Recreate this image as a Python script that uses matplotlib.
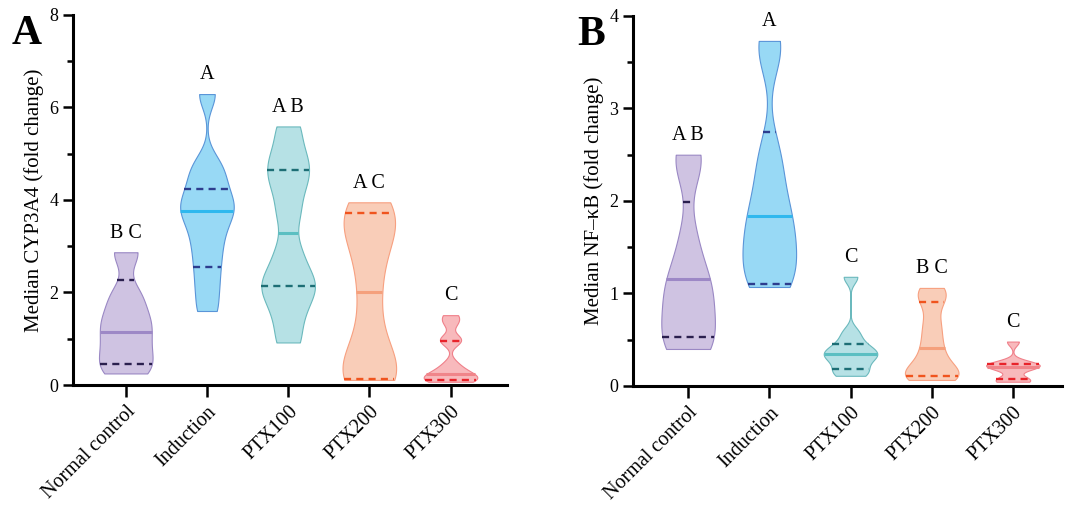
import numpy as np
import matplotlib
matplotlib.use("Agg")
import matplotlib.pyplot as plt
from matplotlib.ticker import MultipleLocator

plt.rcParams['font.family'] = ['Liberation Serif', 'DejaVu Serif']

groups = ["Normal control", "Induction", "PTX100", "PTX200", "PTX300"]

# sample values estimated from the violin shapes
cyp_data = [
    [0.25, 0.5, 0.85, 1.2, 1.5, 1.95, 2.87],
    [1.6, 2.1, 2.55, 2.95, 3.3, 3.6, 3.8, 3.95, 4.2, 4.5, 4.8, 6.29],
    [0.92, 1.5, 1.95, 2.15, 2.4, 2.9, 3.7, 4.3, 4.65, 5.0, 5.59],
    [0.11, 0.12, 0.3, 0.6, 1.2, 2.0, 2.7, 3.2, 3.55, 3.71, 3.95],
    [0.07, 0.1, 0.12, 0.18, 0.23, 0.3, 0.45, 0.95, 1.0, 1.35, 1.51],
]
cyp_bw = [0.3, 0.3, 0.35, 0.55, 0.12]
cyp_median = [1.15, 3.77, 3.28, 2.02, 0.23]
cyp_q1 = [0.45, 2.56, 2.15, 0.12, 0.11]
cyp_q3 = [2.27, 4.23, 4.65, 3.71, 0.96]
cyp_letters = ["B C", "A", "A B", "A C", "C"]

nfkb_data = [
    [0.40, 0.45, 0.55, 0.75, 0.95, 1.1, 1.2, 1.6, 2.4, 2.5],
    [1.07, 1.12, 1.25, 1.4, 1.55, 1.7, 1.84, 2.0, 2.3, 2.55, 3.6, 3.73],
    [0.11, 0.15, 0.22, 0.3, 0.33, 0.36, 0.4, 0.47, 0.58, 1.18],
    [0.065, 0.09, 0.11, 0.15, 0.2, 0.3, 0.41, 0.55, 0.7, 0.9, 1.0, 1.06],
    [0.046, 0.06, 0.075, 0.19, 0.21, 0.22, 0.235, 0.25, 0.48],
]
nfkb_bw = [0.27, 0.28, 0.07, 0.11, 0.045]
nfkb_median = [1.16, 1.84, 0.35, 0.41, 0.21]
nfkb_q1 = [0.53, 1.10, 0.18, 0.11, 0.07]
nfkb_q3 = [1.99, 2.74, 0.45, 0.91, 0.235]
nfkb_letters = ["A B", "A", "C", "B C", "C"]

fill_cols = ["#cfc3e2", "#98d9f5", "#b6e1e5", "#f9cdb8", "#f8b9bc"]
edge_cols = ["#9a88c4", "#5a95d8", "#6bb9bd", "#f7a080", "#f0808a"]
med_cols = ["#9d88c6", "#2fb8ee", "#5bbfc2", "#f5a07c", "#f0858a"]
quart_cols = ["#2a1f4e", "#2d3d8e", "#1d6e75", "#f0541e", "#e8232a"]

HALF = 0.33


def violin(ax, pos, vals, h, i):
    vals = np.asarray(vals, float)
    y = np.linspace(vals.min(), vals.max(), 400)
    dens = np.exp(-0.5 * ((y[:, None] - vals[None, :]) / h) ** 2).sum(axis=1)
    w = HALF * dens / dens.max()
    ax.fill_betweenx(y, pos - w, pos + w, facecolor=fill_cols[i],
                     edgecolor=edge_cols[i], lw=0.8, zorder=2)
    return y, w


def panel(ax, data, bws, med, q1, q3, letters, ylabel, ymax, major, minor, tag, tagx):
    for i, vals in enumerate(data):
        y, w = violin(ax, i, vals, bws[i], i)
        hw = np.interp(med[i], y, w)
        ax.plot([i - hw, i + hw], [med[i]] * 2, color=med_cols[i], lw=2.2, zorder=3,
                solid_capstyle='butt')
        for q in (q1[i], q3[i]):
            hw = np.interp(q, y, w)
            ax.plot([i - hw, i + hw], [q] * 2, color=quart_cols[i], lw=1.7, zorder=3,
                    ls=(0, (3, 2.2)))
        ax.annotate(letters[i], (i, max(vals)), xytext=(0, 7), textcoords='offset points',
                    ha='center', va='bottom', fontsize=14.5)
    ax.set_ylim(0, ymax)
    ax.yaxis.set_major_locator(MultipleLocator(major))
    ax.yaxis.set_minor_locator(MultipleLocator(minor))
    ax.set_xticks(range(len(groups)))
    ax.set_xticklabels(groups, rotation=45, ha='right', rotation_mode='anchor', fontsize=14.5)
    ax.set_ylabel(ylabel, fontsize=15)
    for s in ('top', 'right'):
        ax.spines[s].set_visible(False)
    for s in ('left', 'bottom'):
        ax.spines[s].set_linewidth(2.2)
    ax.tick_params(axis='y', which='major', length=7, width=1.8, labelsize=13)
    ax.tick_params(axis='y', which='minor', length=4.5, width=1.8)
    ax.tick_params(axis='x', length=8.5, width=1.8, pad=4)
    ax.text(tagx, 1.0, tag, transform=ax.transAxes, fontsize=30, fontweight='bold',
            va='top', ha='left')


fig = plt.figure(figsize=(10.8, 5.09), dpi=100)
axA = fig.add_axes([0.0676, 0.2436, 0.4014, 0.727])
axB = fig.add_axes([0.586, 0.2417, 0.397, 0.727])

panel(axA, cyp_data, cyp_bw, cyp_median, cyp_q1, cyp_q3, cyp_letters,
      "Median CYP3A4 (fold change)", 8, 2, 1, "A", -0.142)
axA.set_xlim(-0.65, 4.69)
panel(axB, nfkb_data, nfkb_bw, nfkb_median, nfkb_q1, nfkb_q3, nfkb_letters,
      "Median NF\u2013\u03baB (fold change)", 4, 1, 0.5, "B", -0.13)
axB.set_xlim(-0.68, 4.6)

fig.savefig("out.png", dpi=100)
